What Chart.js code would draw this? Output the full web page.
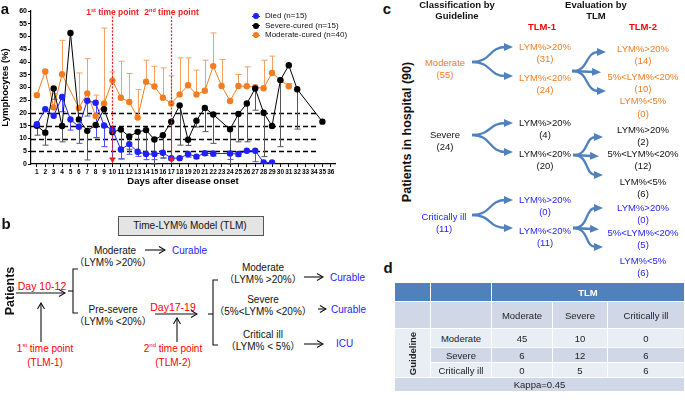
<!DOCTYPE html>
<html>
<head>
<meta charset="utf-8">
<script src="https://cdn.jsdelivr.net/npm/chart.js@4.4.1/dist/chart.umd.min.js"></script>
<style>
  body { margin: 0; width: 685px; height: 405px; background: #fff; position: relative; overflow: hidden;
         font-family: Arial, "Liberation Sans", "Noto Sans CJK SC", sans-serif; color: #111; }
  #lym { position: absolute; left: 0; top: 0; }
  svg { position: absolute; left: 0; top: 0; }
  .t { position: absolute; transform: translate(-50%, -50%); white-space: nowrap; font-size: 10px; line-height: 1; }
  .l { position: absolute; transform: translate(0, -50%); white-space: nowrap; font-size: 10px; line-height: 1; }
  .c { font-size: 9.5px; }
  .rot { transform: translate(-50%, -50%) rotate(-90deg); }
  .b { font-weight: bold; }
  .pl { font-weight: bold; font-size: 15px; }
  .red { color: #f00; }
  .blu { color: #2424ff; }
  .org { color: #f47c20; }
  .lg { position: absolute; font-size: 8px; line-height: 1; white-space: nowrap; transform: translate(0, -50%); }
  .lg i { position: absolute; left: -13px; top: 50%; width: 8px; height: 1px; margin-top: -0.5px; }
  .lg b { position: absolute; left: -12px; top: 50%; width: 6px; height: 6px; margin-top: -3px; border-radius: 50%; }
  .cell { position: absolute; display: flex; align-items: center; justify-content: center; font-size: 9.5px; color: #222; }
  .box { position: absolute; left: 118px; top: 216px; width: 144px; height: 18px; background: #e4e4e4; border: 1px solid #555; }
</style>
</head>
<body>
<canvas id="lym" width="345" height="195"></canvas>

<!-- ── Panel letters ── -->
<div class="t pl" style="left:5px;top:8px">a</div>
<div class="t pl" style="left:6px;top:223px">b</div>
<div class="t pl" style="left:387px;top:8px">c</div>
<div class="t pl" style="left:388px;top:267px">d</div>

<!-- ── Panel a legend ── -->
<div class="lg" style="left:265px;top:16px"><i style="background:#1f1fff"></i><b style="background:#1f1fff"></b>Died (n=15)</div>
<div class="lg" style="left:265px;top:25.5px"><i style="background:#000"></i><b style="background:#000"></b>Severe-cured (n=15)</div>
<div class="lg" style="left:265px;top:35px"><i style="background:#f47c20"></i><b style="background:#f47c20"></b>Moderate-cured (n=40)</div>

<!-- ── Panel b ── -->
<div class="box"></div>
<div class="t" style="left:190px;top:225.5px">Time-LYM% Model (TLM)</div>
<div class="t b rot" style="left:10px;top:291px;font-size:12.5px">Patients</div>
<div class="t red" style="left:42px;top:286px;font-size:10.5px">Day 10-12</div>
<div class="t red" style="left:45px;top:348px">1<sup style="font-size:6px">st</sup> time point</div>
<div class="t red" style="left:45px;top:363px">(TLM-1)</div>
<div class="t" style="left:115px;top:251px">Moderate</div>
<div class="t" style="left:113px;top:263px">（LYM% &gt;20%）</div>
<div class="l blu" style="left:172px;top:251px">Curable</div>
<div class="t" style="left:113px;top:310px">Pre-severe</div>
<div class="t" style="left:113px;top:322px">（LYM% &lt;20%）</div>
<div class="t red" style="left:173px;top:307px;font-size:10.5px">Day17-19</div>
<div class="t red" style="left:173px;top:348px">2<sup style="font-size:6px">nd</sup> time point</div>
<div class="t red" style="left:173px;top:363px">(TLM-2)</div>
<div class="t" style="left:263px;top:268px">Moderate</div>
<div class="t" style="left:263px;top:280px">（LYM% &gt;20%）</div>
<div class="l blu" style="left:330px;top:278px">Curable</div>
<div class="t" style="left:263px;top:300px">Severe</div>
<div class="t" style="left:263px;top:312px">（5%&lt;LYM% &lt;20%）</div>
<div class="l blu" style="left:331px;top:310px">Curable</div>
<div class="t" style="left:263px;top:335px">Critical ill</div>
<div class="t" style="left:263px;top:347px">（LYM% &lt; 5%）</div>
<div class="l blu" style="left:336px;top:344px">ICU</div>

<!-- ── Panel c ── -->
<div class="t b c" style="left:457px;top:5px">Classification by</div>
<div class="t b c" style="left:457px;top:16px">Guideline</div>
<div class="t b c" style="left:596px;top:5px">Evaluation by</div>
<div class="t b c" style="left:596px;top:16px">TLM</div>
<div class="t b c red" style="left:542px;top:27px">TLM-1</div>
<div class="t b c red" style="left:643px;top:27px">TLM-2</div>
<div class="t b rot" style="left:407px;top:132px;font-size:12.5px">Patients in hospital (90)</div>

<div class="t c org" style="left:445px;top:63px">Moderate</div>
<div class="t c org" style="left:445px;top:75px">(55)</div>
<div class="t c org" style="left:545px;top:47px">LYM%&gt;20%</div>
<div class="t c org" style="left:545px;top:59px">(31)</div>
<div class="t c org" style="left:545px;top:78px">LYM%&lt;20%</div>
<div class="t c org" style="left:545px;top:90px">(24)</div>
<div class="t c org" style="left:643px;top:49px">LYM%&gt;20%</div>
<div class="t c org" style="left:643px;top:61px">(14)</div>
<div class="t c org" style="left:643px;top:77px">5%&lt;LYM%&lt;20%</div>
<div class="t c org" style="left:643px;top:89px">(10)</div>
<div class="t c org" style="left:643px;top:101px">LYM%&lt;5%</div>
<div class="t c org" style="left:643px;top:114px">(0)</div>

<div class="t c" style="left:445px;top:135px">Severe</div>
<div class="t c" style="left:445px;top:147px">(24)</div>
<div class="t c" style="left:545px;top:123px">LYM%&gt;20%</div>
<div class="t c" style="left:545px;top:135px">(4)</div>
<div class="t c" style="left:545px;top:154px">LYM%&lt;20%</div>
<div class="t c" style="left:545px;top:166px">(20)</div>
<div class="t c" style="left:643px;top:130px">LYM%&gt;20%</div>
<div class="t c" style="left:643px;top:142px">(2)</div>
<div class="t c" style="left:643px;top:154px">5%&lt;LYM%&lt;20%</div>
<div class="t c" style="left:643px;top:166px">(12)</div>
<div class="t c" style="left:643px;top:182px">LYM%&lt;5%</div>
<div class="t c" style="left:643px;top:194px">(6)</div>

<div class="t c blu" style="left:444px;top:217px">Critically ill</div>
<div class="t c blu" style="left:444px;top:229px">(11)</div>
<div class="t c blu" style="left:545px;top:200px">LYM%&gt;20%</div>
<div class="t c blu" style="left:545px;top:212px">(0)</div>
<div class="t c blu" style="left:545px;top:231px">LYM%&lt;20%</div>
<div class="t c blu" style="left:545px;top:243px">(11)</div>
<div class="t c blu" style="left:643px;top:208px">LYM%&gt;20%</div>
<div class="t c blu" style="left:643px;top:220px">(0)</div>
<div class="t c blu" style="left:643px;top:233px">5%&lt;LYM%&lt;20%</div>
<div class="t c blu" style="left:643px;top:245px">(5)</div>
<div class="t c blu" style="left:643px;top:261px">LYM%&lt;5%</div>
<div class="t c blu" style="left:643px;top:273px">(6)</div>

<svg width="685" height="405">
  <defs>
    <marker id="oa" markerWidth="8" markerHeight="8" refX="7" refY="4" orient="auto" markerUnits="userSpaceOnUse">
      <path d="M1,0.5 L7,4 L1,7.5" fill="none" stroke="#111" stroke-width="1.1"/>
    </marker>
    <marker id="fa" markerWidth="9" markerHeight="8" refX="2" refY="4" orient="auto" markerUnits="userSpaceOnUse">
      <path d="M0,0 L9,4 L0,8 z" fill="#4f81bd"/>
    </marker>
  </defs>
  <!-- panel b lines -->
  <g stroke="#111" stroke-width="1.1" fill="none">
    <line x1="16" y1="293" x2="65" y2="293" marker-end="url(#oa)"/>
    <line x1="41" y1="342" x2="41" y2="303" marker-end="url(#oa)"/>
    <polyline points="78,269 73,269 73,313 78,313"/>
    <line x1="68" y1="291" x2="73" y2="291"/>
    <line x1="145" y1="250" x2="165" y2="250" marker-end="url(#oa)"/>
    <line x1="155" y1="314" x2="197" y2="314" marker-end="url(#oa)"/>
    <line x1="177" y1="342" x2="177" y2="318" marker-end="url(#oa)"/>
    <polyline points="218,280 213,280 213,345 218,345"/>
    <line x1="208" y1="314" x2="213" y2="314"/>
    <line x1="304" y1="277" x2="323" y2="277" marker-end="url(#oa)"/>
    <line x1="318" y1="309" x2="326" y2="309" marker-end="url(#oa)"/>
    <line x1="304" y1="344" x2="323" y2="344" marker-end="url(#oa)"/>
  </g>
  <!-- panel c forks -->
  <g stroke="#4f81bd" stroke-width="2.3" fill="none" marker-end="url(#fa)">
    <path d="M472,62 C492,62 488,47 506,47"/>
    <path d="M472,62 C492,62 488,76 506,76"/>
    <path d="M572,71 C590,71 584,52 599,52"/>
    <path d="M572,71 L594,72"/>
    <path d="M572,71 C590,71 584,91 599,91"/>
    <path d="M472,135 C492,135 488,123 506,123"/>
    <path d="M472,135 C492,135 488,152 506,152"/>
    <path d="M573,155 C590,155 584,137 596,137"/>
    <path d="M573,155 L592,156"/>
    <path d="M573,155 C590,155 584,175 596,175"/>
    <path d="M472,215 C492,215 488,200 506,200"/>
    <path d="M472,215 C492,215 488,228 506,228"/>
    <path d="M573,228 C590,228 584,208 596,208"/>
    <path d="M573,228 L592,229"/>
    <path d="M573,228 C590,228 584,247 596,247"/>
  </g>
</svg>

<div id="tbl"></div>

<script>
// ══════════════════════════════════════════
// DATA
// ══════════════════════════════════════════
const days = [1,2,3,4,5,6,7,8,9,10,11,12,13,14,15,16,17,18,19,20,21,22,23,24,25,26,27,28,29,30,31,32,33,34,35,36];

const died       = [15.6,21.5,18.9,26.3,17.5,14.6,24.8,24.0,15.1,13.5,5.7,7.8,4.8,3.9,3.9,4.4,2.3,2.3,3.9,2.9,4.2,4.1,null,4.1,3.9,5.2,5.2,0.6,0.6,null,null,null,null,null,null,null];
const diedSd     = [0,0,0,5.8,4.2,6.5,6.0,13.6,8.3,11.3,3.7,4.0,1.8,2.2,2.2,2.0,0,0,1.2,0.8,0.8,1.0,null,2.3,1.0,0,4.3,0,0,null,null,null,null,null,null,null];

const severe     = [15.0,12.3,29.6,14.9,51.4,17.5,13.0,15.3,21.5,12.5,13.5,10.8,12.6,13.3,9.6,11.3,16.6,23.0,9.5,17.0,22.0,19.4,null,13.6,19.6,23.7,29.6,20.1,14.9,32.9,38.7,29.3,null,null,16.6,null];
const severeSd   = [3.7,4.9,4.2,6.2,0,0,11.4,5.0,0,0,11.5,5.0,8.5,9.5,9.6,9.0,15.0,15.6,2.2,2.5,9.3,11.3,null,13.6,10.9,15.0,8.5,17.2,0,26.1,0,15.6,null,null,0,null];

const moderate   = [27.0,36.3,22.2,35.2,null,22.0,27.7,18.8,23.7,32.7,26.0,24.3,18.2,32.3,30.4,26.0,23.7,27.3,30.9,27.3,28.7,38.4,30.6,24.7,30.6,30.5,30.1,29.7,35.7,32.9,30.5,null,null,null,null,null];
const moderateSd = [0,0,5.4,13.3,null,13.7,13.6,8.2,29.6,3.4,14.3,11.2,11.0,8.4,7.9,11.7,10.9,14.3,10.7,9.5,12.0,13.0,10.4,0,4.5,7.6,0,11.0,6.6,0,1.1,null,null,null,null,null];

const cutoffs = [5, 10, 15, 20];     // dashed reference lines (LYM%)
const cutoffEnd = 34.6;              // day where the dashed lines stop
const timePoints = [10, 17];
const timeLabels = [['1', 'st'], ['2', 'nd']];
const yTicks = [0,5,10,15,20,25,30,35,40,45,50,55,60];

// table d
const tlmCats = ['Moderate', 'Severe', 'Critically ill'];
const guideCats = ['Moderate', 'Severe', 'Critically ill'];
const agreement = [[45, 10, 0], [6, 12, 6], [0, 5, 6]];
const kappa = 0.45;

// ══════════════════════════════════════════
// PANEL A
// ══════════════════════════════════════════
const series = [
  { label: 'Died (n=15)', mean: died, sd: diedSd, dir: -1, color: '#1f1fff', errColor: '#4b4bff' },
  { label: 'Severe-cured (n=15)', mean: severe, sd: severeSd, dir: -1, color: '#000', errColor: '#555' },
  { label: 'Moderate-cured (n=40)', mean: moderate, sd: moderateSd, dir: 1, color: '#f47c20', errColor: '#f7a062' },
];

const overlay = {
  id: 'overlay',
  beforeDatasetsDraw(chart) {
    const { ctx, chartArea, scales: { x, y } } = chart;
    ctx.save();
    // ── Cutoff lines ──
    ctx.strokeStyle = '#000'; ctx.lineWidth = 1.3; ctx.setLineDash([5, 3]);
    cutoffs.forEach(v => {
      const py = Math.round(y.getPixelForValue(v)) + 0.5;
      ctx.beginPath(); ctx.moveTo(chartArea.left, py); ctx.lineTo(x.getPixelForValue(cutoffEnd), py); ctx.stroke();
    });
    ctx.setLineDash([]);
    // ── One-sided SD bars ──
    series.slice().reverse().forEach(s => {
      ctx.strokeStyle = s.errColor; ctx.lineWidth = 1;
      days.forEach((d, i) => {
        const m = s.mean[i], e = s.sd[i];
        if (m == null || !e) return;
        const px = Math.round(x.getPixelForValue(d)) + 0.5;
        const y0 = y.getPixelForValue(m), y1 = y.getPixelForValue(m + s.dir * e);
        ctx.beginPath();
        ctx.moveTo(px, y0); ctx.lineTo(px, y1);
        ctx.moveTo(px - 3, y1); ctx.lineTo(px + 3, y1);
        ctx.stroke();
      });
    });
    ctx.restore();
  },
  afterDatasetsDraw(chart) {
    const { ctx, scales: { x, y } } = chart;
    ctx.save();
    timePoints.forEach((d, k) => {
      const px = Math.round(x.getPixelForValue(d)) + 0.5;
      ctx.strokeStyle = '#ff1a1a'; ctx.lineWidth = 1.2; ctx.setLineDash([2, 1.5]);
      ctx.beginPath(); ctx.moveTo(px, y.getPixelForValue(57.8)); ctx.lineTo(px, y.getPixelForValue(2.5)); ctx.stroke();
      ctx.setLineDash([]);
      // arrow head
      const tip = y.getPixelForValue(0.2);
      ctx.fillStyle = '#ff1a1a';
      ctx.beginPath(); ctx.moveTo(px - 3, tip - 6); ctx.lineTo(px + 3, tip - 6); ctx.lineTo(px, tip); ctx.closePath(); ctx.fill();
      // label with superscript
      const [num, sup] = timeLabels[k];
      const big = 'bold 8.5px Arial', small = 'bold 5.5px Arial';
      ctx.font = big; const w1 = ctx.measureText(num).width, w3 = ctx.measureText(' time point').width;
      ctx.font = small; const w2 = ctx.measureText(sup).width;
      let lx = px - (w1 + w2 + w3) / 2;
      const ly = 15;
      ctx.textBaseline = 'alphabetic'; ctx.textAlign = 'left';
      ctx.font = big; ctx.fillText(num, lx, ly); lx += w1;
      ctx.font = small; ctx.fillText(sup, lx, ly - 3.5); lx += w2;
      ctx.font = big; ctx.fillText(' time point', lx, ly);
    });
    ctx.restore();
  }
};

new Chart(document.getElementById('lym'), {
  type: 'line',
  data: {
    datasets: series.map(s => ({
      label: s.label,
      data: days.map((d, i) => ({ x: d, y: s.mean[i] })).filter(p => p.y != null),
      borderColor: s.color, backgroundColor: s.color,
      pointBackgroundColor: s.color, pointBorderColor: s.color,
      borderWidth: 1, pointRadius: 3.2, pointBorderWidth: 0, tension: 0,
    }))
  },
  options: {
    responsive: false, animation: false,
    layout: { padding: { left: 0, right: 10, top: 11, bottom: 0 } },
    plugins: { legend: { display: false }, tooltip: { enabled: false } },
    scales: {
      x: {
        type: 'linear', min: 0.3, max: 36.5,
        afterFit: s => { s.height = 31; },
        afterBuildTicks: s => { s.ticks = days.map(v => ({ value: v })); },
        border: { color: '#000', width: 1.2 },
        grid: { drawOnChartArea: false, color: '#000', tickLength: 3 },
        ticks: { color: '#000', font: { size: 6.5, weight: 'bold', family: 'Arial' }, padding: 1, maxRotation: 0, autoSkip: false },
        title: { display: true, text: 'Days after disease onset', color: '#000', font: { size: 9.5, weight: 'bold', family: 'Arial' }, padding: { top: 0, bottom: 8 } }
      },
      y: {
        min: 0, max: 60,
        afterFit: s => { s.width = 31; },
        afterBuildTicks: s => { s.ticks = yTicks.map(v => ({ value: v })); },
        border: { color: '#000', width: 1.2 },
        grid: { drawOnChartArea: false, color: '#000', tickLength: 3 },
        ticks: { color: '#000', font: { size: 7, weight: 'bold', family: 'Arial' }, padding: 1 },
        title: { display: true, text: 'Lymphocytes (%)', color: '#000', font: { size: 9.5, weight: 'bold', family: 'Arial' }, padding: 0 }
      }
    }
  },
  plugins: [overlay]
});

// ══════════════════════════════════════════
// PANEL D TABLE
// ══════════════════════════════════════════
const cols = [395, 431, 492, 553, 608, 685];
const rows = [283, 302, 329, 348, 363, 378, 392];
const DARK = '#d0d8e8', LIGHT = '#e9edf4', HEAD = '#4f81bd';
const tbl = document.getElementById('tbl');
function cell(c0, c1, r0, r1, bg, html, extra) {
  const el = document.createElement('div');
  el.className = 'cell';
  el.style.cssText += `left:${cols[c0]}px;top:${rows[r0]}px;width:${cols[c1] - cols[c0] - 1}px;height:${rows[r1] - rows[r0] - 1}px;background:${bg};` + (extra || '');
  el.innerHTML = html || '';
  tbl.appendChild(el);
  return el;
}
cell(0, 1, 0, 1, HEAD);
cell(1, 2, 0, 1, HEAD);
cell(2, 5, 0, 1, HEAD, 'TLM', 'color:#fff;font-weight:bold;');
cell(0, 1, 1, 2, DARK);
cell(1, 2, 1, 2, DARK);
tlmCats.forEach((c, j) => cell(2 + j, 3 + j, 1, 2, DARK, c));
cell(0, 1, 2, 5, LIGHT, '<span style="transform:rotate(-90deg);font-weight:bold;display:inline-block">Guideline</span>');
guideCats.forEach((g, i) => {
  const bg = i % 2 ? DARK : LIGHT;
  cell(1, 2, 2 + i, 3 + i, bg, g);
  agreement[i].forEach((v, j) => cell(2 + j, 3 + j, 2 + i, 3 + i, bg, String(v)));
});
cell(0, 5, 5, 6, DARK, 'Kappa=' + kappa);
</script>
</body>
</html>
